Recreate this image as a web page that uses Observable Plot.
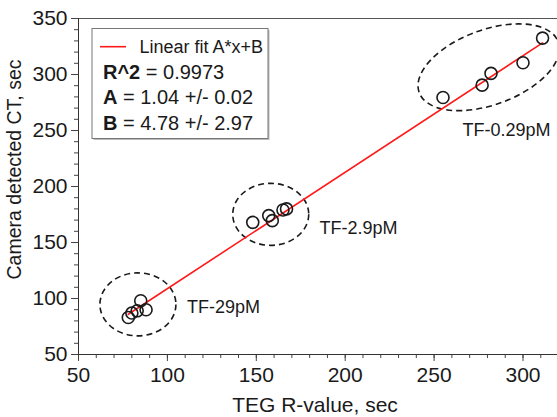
<!DOCTYPE html>
<html><head><meta charset="utf-8">
<script src="https://cdn.jsdelivr.net/npm/d3@7"></script>
<script src="https://cdn.jsdelivr.net/npm/@observablehq/plot@0.6"></script>
<style>
body{margin:0;background:#fff;}
#chart svg{display:block;}
</style>
</head><body><div id="chart"></div>
<script>
// ---- data ----
const tegR     = [78, 80, 83, 85, 88, 148, 157, 159, 165, 167, 255, 277, 282, 300, 311];
const cameraCT = [83, 87, 89, 98, 90, 168, 174, 169.5, 179, 180, 279.5, 290.5, 301, 310.5, 332.5];
const groupLabels = ["TF-29pM", "TF-2.9pM", "TF-0.29pM"];
const groupLabelX = [111, 185.5, 266];
const groupLabelY = [92, 162.5, 250];
const groupCenterX = [83.7, 158.4, 281];
const groupCenterY = [94.3, 174.7, 306];
const fitA = 1.04;
const fitB = 4.78;
const legendTitle = "Linear fit A*x+B";
const legendKeys = ["R^2", "A", "B"];
const legendValues = [" = 0.9973", " = 1.04 +/- 0.02", " = 4.78 +/- 2.97"];
const xMajorTicks = [50, 100, 150, 200, 250, 300];
const xMinorTicks = d3.range(50, 320, 10);
const yMajorTicks = [50, 100, 150, 200, 250, 300, 350];
const yMinorTicks = d3.range(50, 351, 10);

const points = tegR.map((x, i) => ({x, y: cameraCT[i]}));
const xMin = d3.min(tegR), xMax = d3.max(tegR);
const fitLine = [xMin, xMax].map(x => ({x, y: fitA * x + fitB}));
const groups = groupLabels.map((label, i) => ({
  label, lx: groupLabelX[i], ly: groupLabelY[i], cx: groupCenterX[i], cy: groupCenterY[i]
}));

const FONT = "'Liberation Sans', Arial, sans-serif";
const INK = "#1a1a1a";

// ellipse shapes in pixels (style)
const ellipseShape = [
  {rx: 38, ry: 31.5, rot: 0},
  {rx: 38, ry: 31, rot: 0},
  {rx: 74, ry: 37.5, rot: -20}
];

function ellipsesMark(index, scales, values, dimensions) {
  const g = d3.create("svg:g");
  groups.forEach((d, i) => {
    const s = ellipseShape[i];
    const px = scales.x(d.cx), py = scales.y(d.cy);
    g.append("ellipse")
      .attr("transform", `translate(${px},${py}) rotate(${s.rot})`)
      .attr("rx", s.rx).attr("ry", s.ry)
      .attr("fill", "none").attr("stroke", INK)
      .attr("stroke-width", 1.6).attr("stroke-dasharray", "6,4");
  });
  return g.node();
}

function legendMark(index, scales, values, dimensions) {
  const {marginLeft, marginTop} = dimensions;
  const g = d3.create("svg:g").attr("font-family", FONT).attr("fill", INK)
    .attr("text-anchor", "start");
  const bx = marginLeft + 14, by = marginTop + 10.5, bw = 176, bh = 110;
  g.append("rect").attr("x", bx + 1.5).attr("y", by + 1.5).attr("width", bw).attr("height", bh)
    .attr("fill", "#bbb");
  g.append("rect").attr("x", bx).attr("y", by).attr("width", bw).attr("height", bh)
    .attr("fill", "#fff").attr("stroke", "#777").attr("stroke-width", 1);
  const rowY = [46.7, 71.5, 97, 122.5];
  g.append("line").attr("x1", bx + 8).attr("x2", bx + 34)
    .attr("y1", rowY[0]).attr("y2", rowY[0]).attr("stroke", "#ff1a1a").attr("stroke-width", 1.6);
  g.append("text").attr("x", bx + 47.5).attr("y", rowY[0]).attr("dy", "0.35em")
    .attr("text-anchor", "start").attr("font-size", 18).text(legendTitle);
  legendKeys.forEach((k, i) => {
    const t = g.append("text").attr("x", bx + 11).attr("y", rowY[i + 1]).attr("dy", "0.35em")
      .attr("text-anchor", "start").attr("font-size", 20);
    t.append("tspan").attr("font-weight", "bold").text(k);
    t.append("tspan").text(legendValues[i]);
  });
  return g.node();
}

const chart = Plot.plot({
  width: 557,
  height: 417,
  marginLeft: 78,
  marginRight: 0,
  marginTop: 18,
  marginBottom: 63,
  x: {domain: [50, 319.4], axis: null},
  y: {domain: [50, 350], axis: null},
  style: {fontFamily: FONT, background: "#fff", color: INK},
  marks: [
    Plot.ruleY([350], {stroke: "#555", strokeWidth: 1}),
    Plot.axisX(xMinorTicks, {tickSize: 4, tickFormat: () => "", stroke: "#444", label: null}),
    Plot.axisY(yMinorTicks, {tickSize: 4, tickFormat: () => "", stroke: "#444", label: null}),
    Plot.axisX(xMajorTicks, {tickSize: 7, tickPadding: 6, fontSize: 21, stroke: "#444", label: null}),
    Plot.axisY(yMajorTicks, {tickSize: 7, tickPadding: 4, fontSize: 21, stroke: "#444", label: null}),
    Plot.ruleY([50], {stroke: "#333", strokeWidth: 1}),
    Plot.ruleX([50], {stroke: "#333", strokeWidth: 1}),
    Plot.text(["TEG R-value, sec"], {frameAnchor: "bottom", lineAnchor: "middle", dy: 51, dx: -3, fontSize: 21, fill: INK}),
    Plot.text(["Camera detected CT, sec"], {frameAnchor: "left", textAnchor: "middle", lineAnchor: "middle", rotate: -90, dx: -64, dy: -17, fontSize: 19.5, fill: INK}),
    ellipsesMark,
    Plot.line(fitLine, {x: "x", y: "y", stroke: "#ff1a1a", strokeWidth: 1.6}),
    Plot.dot(points, {x: "x", y: "y", r: 6, stroke: INK, strokeWidth: 1.6, fill: "none"}),
    Plot.text(groups, {x: "lx", y: "ly", text: "label", textAnchor: "start", fontSize: 18, fill: INK}),
    legendMark
  ]
});
document.getElementById("chart").appendChild(chart);
</script>
</body></html>
